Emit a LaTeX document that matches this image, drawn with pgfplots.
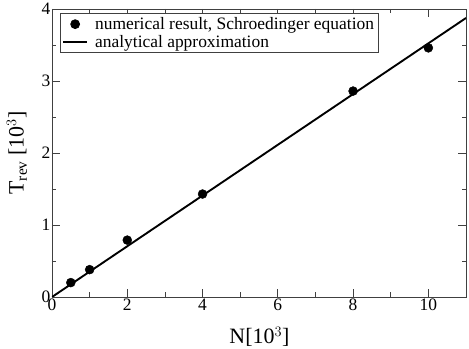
\documentclass[border=0pt]{standalone}
\usepackage{pgfplots}
\pgfplotsset{compat=1.18}
\usepackage{fontspec}
\setmainfont{Liberation Serif}
\usetikzlibrary{calc}
\pgfplotsset{
  markleg/.style={legend image code/.code={\draw[mark repeat=2,mark phase=2,##1] plot coordinates {(0bp,0bp) (12bp,0bp) (24bp,0bp)};\path[draw=none,fill=none] (0bp,0bp) rectangle (30bp,0bp);}},
  lineleg/.style={legend image code/.code={\draw[##1, line width=1.9pt] (0bp,0bp) -- (24bp,0bp);\path[draw=none,fill=none] (0bp,0bp) rectangle (30bp,0bp);}},
}
\begin{document}
\begin{tikzpicture}[x=1bp,y=1bp]
\begin{axis}[
  name=ax,
  scale only axis,
  width=414bp, height=288bp,
  xmin=0, xmax=11, ymin=0, ymax=4,
  xtick={0,2,4,6,8,10}, ytick={0,1,2,3,4},
  minor xtick={1,3,5,7,9}, minor ytick={0.5,1.5,2.5,3.5},
  tick align=inside,
  major tick length=8bp, minor tick length=4.5bp,
  axis line style={draw=black!75, line width=0.9pt},
  every tick/.style={draw=black!75, line width=0.8pt},
  /pgf/number format/assume math mode=true,
  tick label style={font=\fontsize{17.5}{19}\selectfont},
  yticklabel style={inner sep=1.5bp},
  xticklabel style={inner sep=2bp},
  xlabel={N[10$^3$]},
  ylabel={T$_\mathrm{rev}$ [10$^3$]},
  label style={font=\fontsize{22}{24}\selectfont},
  xlabel style={at={(axis description cs:0.501,-0.162)}, anchor=base, inner sep=0pt},
  ylabel style={at={(axis description cs:-0.06,0.5)}, anchor=south, inner sep=0pt},
  legend style={at={(0.019,0.986)}, anchor=north west, font=\fontsize{17.5}{19}\selectfont, draw=black!75, line width=0.7pt, inner sep=2bp, row sep=0bp},
  legend cell align=left,
]
\addplot[only marks, mark=*, mark size=4.5bp, black, markleg] coordinates {
 (0.5,0.20) (1,0.38) (2,0.79) (4,1.43) (8,2.86) (10,3.46)
};
\addlegendentry{numerical result, Schroedinger equation}
\addplot[black, line width=1.9pt, lineleg] coordinates {(0,0) (11,3.875)};
\addlegendentry{analytical approximation}
\end{axis}
\pgfresetboundingbox
\useasboundingbox ($(ax.south west)+(-52bp,-52bp)$) rectangle ($(ax.north east)+(3bp,9bp)$);
\end{tikzpicture}
\end{document}
